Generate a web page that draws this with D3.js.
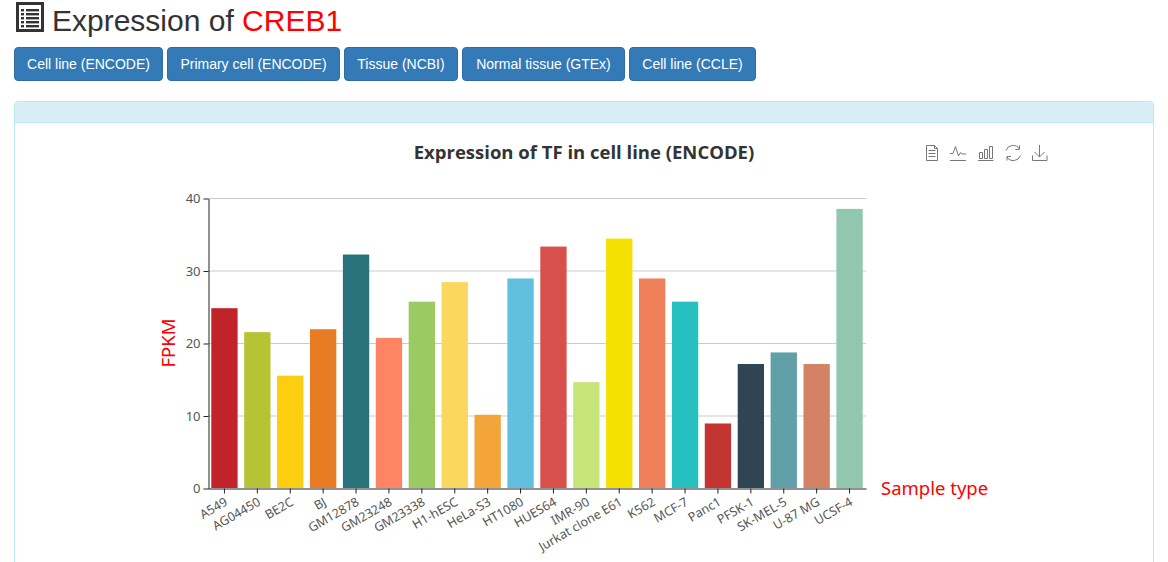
<!DOCTYPE html>
<html>
<head>
<meta charset="utf-8">
<script src="https://cdn.jsdelivr.net/npm/d3@7/dist/d3.min.js"></script>
<style>
html,body{margin:0;padding:0;background:#fff;overflow:hidden;}
#page{position:relative;width:1168px;height:562px;overflow:hidden;font-family:"Liberation Sans",Arial,sans-serif;color:#333;}
#heading{position:absolute;left:52px;top:3px;font-size:30px;line-height:36px;white-space:nowrap;}
#heading span{color:#f00;}
#listIcon{position:absolute;left:16px;top:2px;}
.btn{position:absolute;top:47px;height:34px;box-sizing:border-box;background:#337ab7;border:1px solid #2e6da4;border-radius:4px;color:#fff;font-size:14px;line-height:32px;text-align:center;white-space:nowrap;}
#panel{position:absolute;left:14px;top:101px;width:1140px;height:500px;box-sizing:border-box;border:1px solid #bce8f1;border-radius:4px;background:#fff;}
#panelHead{height:20px;background:#d9edf7;border-bottom:1px solid #bce8f1;border-radius:3px 3px 0 0;}
#container{position:absolute;left:0;top:0;}
</style>
</head>
<body>
<div id="page">
  <svg id="listIcon" width="28" height="30"></svg>
  <div id="heading">Expression of <span>CREB1</span></div>
  <div id="buttons"></div>
  <div id="panel"><div id="panelHead"></div></div>
  <div id="container"></div>
</div>
<script>
var samples = ["A549","AG04450","BE2C","BJ","GM12878","GM23248","GM23338","H1-hESC","HeLa-S3","HT1080","HUES64","IMR-90","Jurkat clone E61","K562","MCF-7","Panc1","PFSK-1","SK-MEL-5","U-87 MG","UCSF-4"];
var fpkm = [24.8,21.5,15.5,21.9,32.2,20.7,25.7,28.4,10.1,28.9,33.3,14.6,34.4,28.9,25.7,8.9,17.1,18.7,17.1,38.5];
var barColors = ["#C1232B","#B5C334","#FCCE10","#E87C25","#27727B","#FE8463","#9BCA63","#FAD860","#F3A43B","#60C0DD","#D7504B","#C6E579","#F4E001","#F0805A","#26C0C0","#c23531","#2f4554","#61a0a8","#d48265","#91c7ae"];
var yTicks = [0,10,20,30,40];
var buttonLabels = ["Cell line (ENCODE)","Primary cell (ENCODE)","Tissue (NCBI)","Normal tissue (GTEx)","Cell line (CCLE)"];
var buttonLefts = [14,167,344,462,629];
var buttonWidths = [149,173,114,163,127];

var margin = {top: 198, right: 302, bottom: 74, left: 208},
width = 1168 - margin.left - margin.right,
height = 562 - margin.top - margin.bottom;

// header buttons
d3.select("#buttons").selectAll("div")
  .data(buttonLabels)
  .enter()
  .append("div")
  .attr("class","btn")
  .style("left",function(d,i){return buttonLefts[i]+"px"})
  .style("width",function(d,i){return buttonWidths[i]+"px"})
  .text(d=>d);

// list icon next to the heading
var icon = d3.select("#listIcon");
icon.append("rect").attr("x",1.5).attr("y",1.5).attr("width",25).attr("height",27)
  .attr("fill","#fff").attr("stroke","#333").attr("stroke-width",3);
d3.range(5).forEach(function(i){
  var y = 7 + i*4;
  icon.append("rect").attr("x",5).attr("y",y).attr("width",3).attr("height",2.4).attr("fill","#333");
  icon.append("rect").attr("x",10).attr("y",y).attr("width",13).attr("height",2.4).attr("fill","#333");
});

var svg = d3.select("#container").append("svg")
  .attr("width",1168)
  .attr("height",562);
let a = svg.append("g")
  .attr("transform","translate(" + margin.left + "," + margin.top + ")");

var x = d3.scaleBand().domain(samples).range([0,width]).paddingInner(0.2).paddingOuter(0.1);
var y = d3.scaleLinear().domain([0,40]).range([height,0]);

// grid lines
a.selectAll(".grid")
  .data(yTicks.filter(d=>d>0))
  .enter()
  .append("line")
  .attr("class","grid")
  .attr("x1",0).attr("x2",width)
  .attr("y1",d=>y(d)+0.5).attr("y2",d=>y(d)+0.5)
  .attr("stroke","#ccc");

// bars
a.selectAll(".bar")
  .data(samples)
  .enter()
  .append("rect")
  .attr("class","bar")
  .attr("x",d=>x(d))
  .attr("width",x.bandwidth())
  .attr("y",function(d,i){return y(fpkm[i])})
  .attr("height",function(d,i){return height-y(fpkm[i])})
  .attr("fill",function(d,i){return barColors[i]});

// axes
var yAxis = a.append("g")
  .attr("transform","translate(0.5,0.5)")
  .call(d3.axisLeft(y).tickValues(yTicks).tickSize(5).tickSizeOuter(0).tickPadding(3));
var xAxis = a.append("g")
  .attr("transform","translate(0,"+(height+0.5)+")")
  .call(d3.axisBottom(x).tickSize(5).tickSizeOuter(0).tickPadding(3));
[xAxis,yAxis].forEach(function(g){
  g.select(".domain").attr("stroke","#222");
  g.selectAll(".tick line").attr("stroke","#222");
  g.selectAll("text").attr("fill","#555").style("font-family",'"Noto Sans","Open Sans",sans-serif').style("font-size","13px");
});
xAxis.selectAll("text")
  .style("font-size","12.5px")
  .attr("text-anchor","end")
  .attr("dy",0)
  .attr("transform","translate(0,9) rotate(-30)");

// titles
svg.append("text").attr("x",584).attr("y",159).attr("text-anchor","middle")
  .style("font-family",'"Open Sans","Noto Sans",sans-serif').style("font-size","18.5px").style("font-weight","bold")
  .attr("fill","#333").text("Expression of TF in cell line (ENCODE)");
svg.append("text").attr("transform","translate(175,343) rotate(-90)").attr("text-anchor","middle")
  .style("font-family",'"Noto Sans",sans-serif').style("font-size","18.5px").attr("fill","#f00").text("FPKM");
svg.append("text").attr("x",881).attr("y",495)
  .style("font-family",'"Noto Sans",sans-serif').style("font-size","18.5px").attr("fill","#f00").text("Sample type");

// toolbox icons
var tools = svg.append("g").attr("fill","none").attr("stroke","#777").attr("stroke-width",1);
tools.append("path").attr("d","M926.5 145.5H934.5L937.5 148.5V160.5H926.5ZM934.5 145.5V148.5H937.5M928.5 150.5H935.5M928.5 153.5H935.5M928.5 156.5H935.5");
tools.append("path").attr("d","M950 153.5H953L955.5 146.5L958.5 156L960.5 152.5L962 154H966M950 160.5H966");
tools.append("path").attr("d","M979.5 152.5H982.5V158.5H979.5ZM984.5 149.5H987.5V158.5H984.5ZM989.5 146.5H992.5V158.5H989.5ZM978 160.5H993.5");
tools.append("path").attr("d","M1006 150.5A7.5 7.5 0 0 1 1019.5 149M1020.5 155.5A7.5 7.5 0 0 1 1007 157M1019.5 145.5V149.5H1015.5M1007 160.5V156.5H1011");
tools.append("path").attr("d","M1039.5 145V157M1034.5 152L1039.5 157L1044.5 152M1032.5 155.5V160.5H1047V155.5");
</script>
</body>
</html>
